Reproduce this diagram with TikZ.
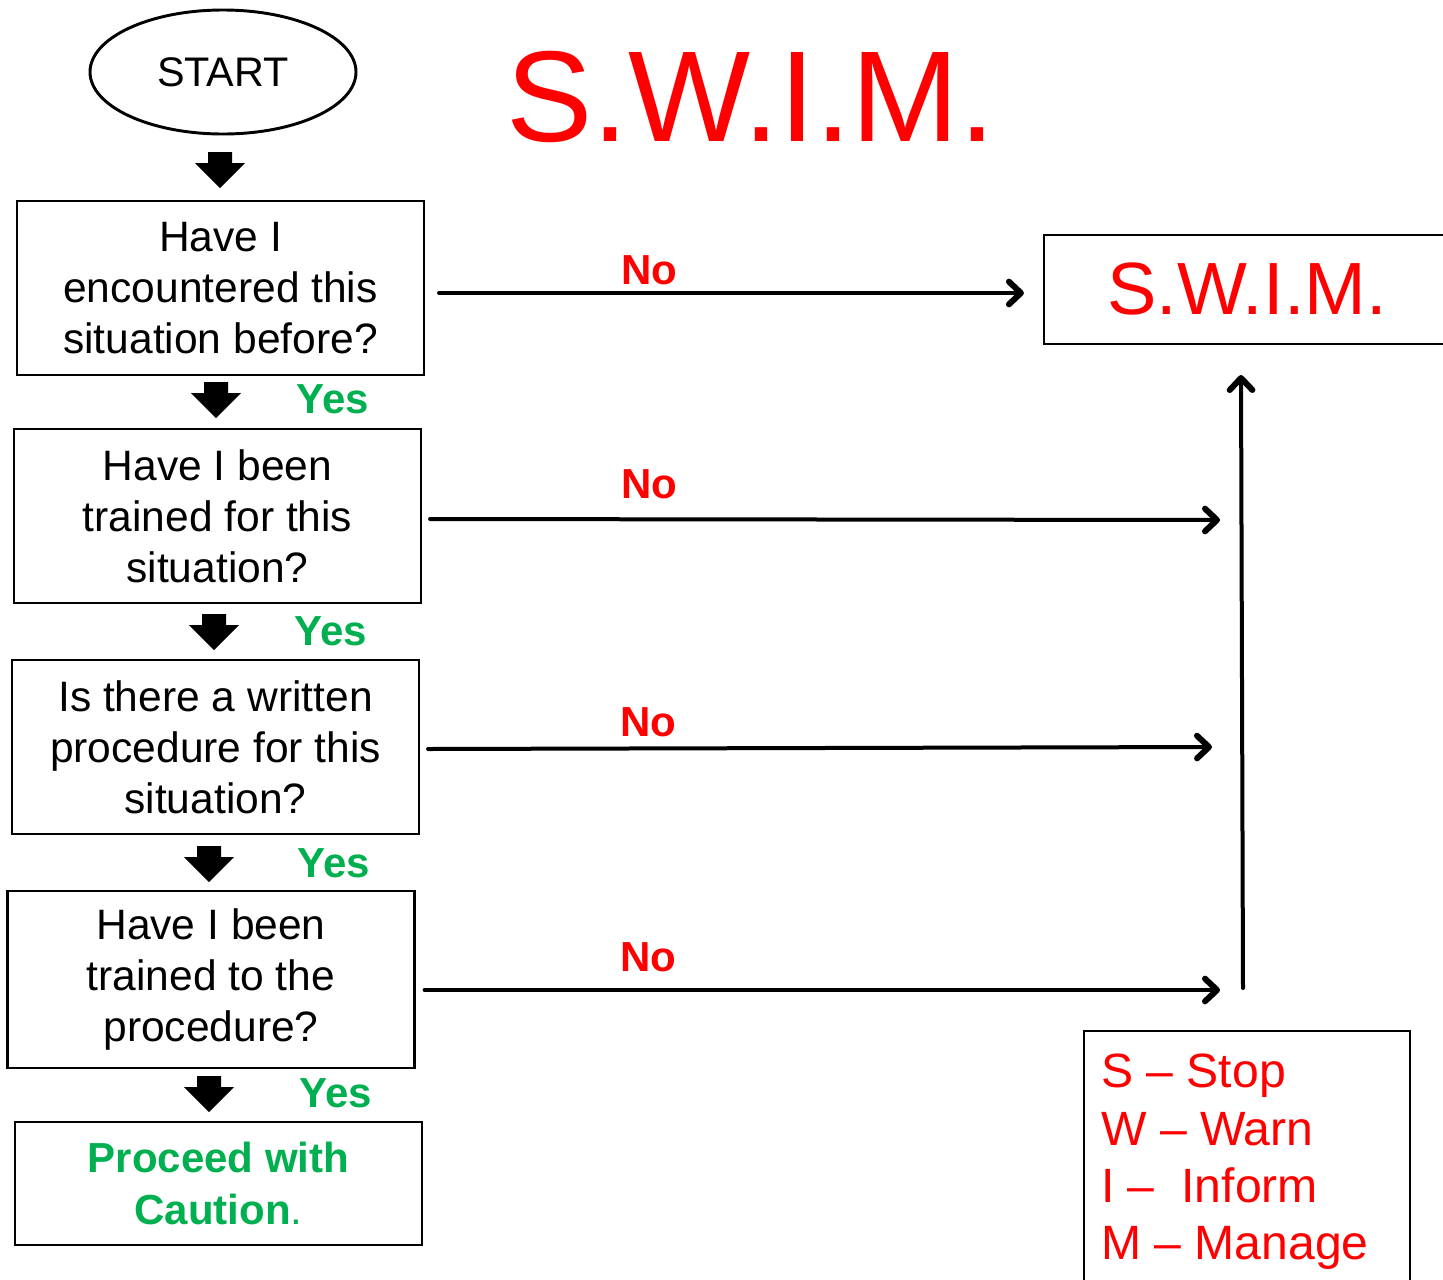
\documentclass[tikz,border=0pt]{standalone}
\usepackage{fontspec}
\setmainfont{Liberation Sans}
\usetikzlibrary{arrows.meta,shapes.geometric}
\definecolor{swred}{RGB}{255,0,0}
\definecolor{swgreen}{RGB}{0,176,80}
\begin{document}
\begin{tikzpicture}[x=0.75pt,y=-0.75pt,
  qbox/.style={draw=black,line width=1.6pt,minimum width=407*0.75pt,minimum height=174*0.75pt,align=center,inner sep=0pt,
    font=\fontsize{31.9}{38.3}\selectfont},
  yeslab/.style={text=swgreen,font=\fontsize{31.5}{36}\selectfont\bfseries},
  nolab/.style={text=swred,font=\fontsize{31.5}{36}\selectfont\bfseries},
  conn/.style={line width=3pt,line cap=round,-{Straight Barb[length=9pt,width=17pt,line width=4.5pt,round]}},
  blockdown/.pic={\fill[black] (-12,0) -- (12,0) -- (12,11) -- (25,11) -- (0,36) -- (-25,11) -- (-12,11) -- cycle;}
]
\useasboundingbox (0,0) rectangle (1443,1279);
\clip (0,0) rectangle (1443,1279);
\fill[white] (0,0) rectangle (1443,1279);

% start
\node[draw,ellipse,line width=2.2pt,minimum width=266*0.75pt,minimum height=124*0.75pt,inner sep=0pt,
  font=\fontsize{31}{36}\selectfont] (start) at (223,72) {START};

% title
\node[text=swred,font=\fontsize{97}{110}\selectfont,inner sep=0pt] (title) at (751,97) {S.W.I.M.};

% question boxes
\node[qbox] (q1) at (220.5,288) {Have I\\encountered this\\situation before?};
\node[qbox] (q2) at (217.5,516) {Have I been\\trained for this\\situation?};
\node[qbox] (q3) at (215.5,747) {Is there a written\\procedure for this\\situation?};
\node[qbox,minimum height=177*0.75pt] (q4) at (211,979.5) {Have I been\\trained to the\\procedure?};
\node[qbox,minimum height=123*0.75pt,font=\fontsize{31.5}{39}\selectfont] (q5) at (218.5,1183.5)
  {\textcolor{swgreen}{\bfseries Proceed with}\\\textcolor{swgreen}{\bfseries Caution}\textcolor{swgreen}{.}};

% block arrows
\pic at (220,152) {blockdown};
\pic at (216,382) {blockdown};
\pic at (214,614) {blockdown};
\pic at (209,846) {blockdown};
\pic at (209,1076) {blockdown};

% yes labels
\node[yeslab] (y1) at (333,399) {Yes};
\node[yeslab] (y2) at (331,631) {Yes};
\node[yeslab] (y3) at (334,863) {Yes};
\node[yeslab] (y4) at (336,1093) {Yes};

% SWIM box
\node[draw=black,line width=1.6pt,minimum width=406*0.75pt,minimum height=109*0.75pt,inner sep=0pt,
  text=swred,font=\fontsize{55.5}{62}\selectfont] (swim) at (1247,289.5) {S.W.I.M.};

% connector endpoints
\coordinate (e2) at (1220,520);
\coordinate (e3) at (1212,747);
\coordinate (e4) at (1220,990);
\coordinate (vb) at (1243,988);
\coordinate (vt) at (1241,375);

% no arrows
\draw[conn] ([xshift=14*0.75pt]q1.east |- 0,293) -- ([xshift=-19*0.75pt]swim.west |- 0,293);
\draw[conn] ([xshift=8*0.75pt]q2.east |- 0,519) -- (e2);
\draw[conn] ([xshift=8*0.75pt]q3.east |- 0,749) -- (e3);
\draw[conn] ([xshift=9*0.75pt]q4.east |- 0,990) -- (e4);
\draw[conn] (vb) -- (vt);

\node[nolab] (n1) at (649,270) {No};
\node[nolab] (n2) at (649,484) {No};
\node[nolab] (n3) at (648,722) {No};
\node[nolab] (n4) at (648,957) {No};

% legend
\node[draw=black,line width=1.2pt,minimum width=326*0.75pt,minimum height=280*0.75pt,anchor=north west,inner sep=0pt] (legend) at (1083,1030) {};
\node[anchor=west,align=left,text=swred,inner sep=0pt,font=\fontsize{36.1}{43}\selectfont] (legtext) at (1101,1162)
  {S – Stop\\W – Warn\\I –\ \ Inform\\M – Manage};
\end{tikzpicture}
\end{document}
